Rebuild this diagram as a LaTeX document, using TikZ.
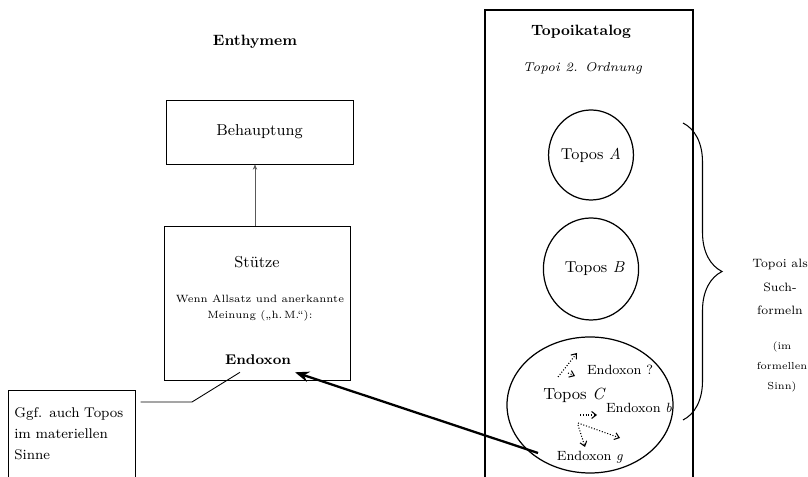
\documentclass[tikz,border=0pt]{standalone}
\usepackage{tikz}
\usetikzlibrary{arrows.meta,positioning,calc,shapes.geometric,decorations.pathreplacing}

\begin{document}
\begin{tikzpicture}[
  kasten/.style={
    draw, line width=0.5pt,
    align=center, font=\fontsize{9}{11}\selectfont},
  titel/.style={font=\fontsize{8.5}{10}\selectfont\bfseries},
  topos/.style={
    draw, ellipse, line width=0.7pt, inner sep=0pt,
    font=\fontsize{9}{11}\selectfont},
  endox/.style={font=\fontsize{7.6}{9}\selectfont, inner sep=1pt},
  stuetzpfeil/.style={-{Stealth[length=3pt,width=2.5pt]}, gray!70!black, line width=0.35pt},
  dotarr/.style={-{Straight Barb[length=2.6pt,width=4pt]}, densely dotted, line width=0.6pt},
  bigarr/.style={-{Stealth[length=8pt,width=6pt]}, line width=1.3pt},
]
  \useasboundingbox (0,0) rectangle (16.16,-9.54);

  % Enthymem
  \node[titel] (enthymem) at (5.1,-0.83) {Enthymem};
  \node[kasten, minimum width=3.74cm, minimum height=1.28cm] (behauptung) at (5.19,-2.64) {Behauptung};
  \node[kasten, minimum width=3.72cm, minimum height=3.08cm] (stuetze) at (5.14,-6.06) {};
  \node[font=\fontsize{9}{11}\selectfont] (stTitel) at (5.14,-5.24) {Stütze};
  \node[font=\fontsize{6}{9}\selectfont, align=center] (wenn) at (5.2,-6.16)
    {Wenn Allsatz und anerkannte\\Meinung („h.\,M.“):};
  \node[font=\fontsize{8}{10}\selectfont\bfseries, inner sep=4pt] (endoxon) at (5.16,-7.2) {Endoxon};
  \draw[stuetzpfeil] ([xshift=-0.04cm]stuetze.north) -- ([xshift=-0.04cm]stuetze.north |- behauptung.south);

  \node[anchor=north west, minimum width=2.54cm, minimum height=1.74cm, text width=2.3cm,
        align=left, font=\fontsize{8}{12}\selectfont] (ggf) at (0.16,-7.8)
    {Ggf. auch Topos im materiellen Sinne\\[2pt]};
  \draw[line width=0.5pt] (ggf.south west) -- (ggf.north west) -- (ggf.north east) -- (ggf.south east);
  \coordinate (knick) at (3.84,-8.04);
  \draw[line width=0.5pt] ([xshift=-0.36cm]endoxon.south) -- (knick) -- ([xshift=0.1cm]ggf.north east |- knick);

  % Topoikatalog
  \node[anchor=north west, minimum width=4.14cm, minimum height=9.34cm] (katalog) at (9.7,-0.2) {};
  \draw[line width=1.1pt] (katalog.south west) -- (katalog.north west) -- (katalog.north east) -- (katalog.south east);
  \node[titel] (katTitel) at (11.62,-0.63) {Topoikatalog};
  \node[font=\fontsize{7.3}{9}\selectfont\itshape] (ordnung) at (11.65,-1.36) {Topoi 2. Ordnung};

  \node[topos, minimum width=1.64cm, minimum height=1.8cm] (toposA) at (11.82,-3.1) {Topos \textit{A}};
  \node[topos, minimum width=1.64cm, minimum height=2.04cm] (toposB) at (11.82,-5.38) {\hspace{0.15cm}Topos \textit{B}};
  \node[topos, minimum width=3.32cm, minimum height=2.72cm] (toposC) at (11.8,-8.1) {};

  \node[font=\fontsize{9.2}{11}\selectfont] (topC) at (11.49,-7.9) {Topos \textit{C}};
  \node[endox] (endFrage) at (12.4,-7.4) {Endoxon ?};
  \node[endox] (endB) at (12.78,-8.16) {Endoxon \textit{b}};
  \node[endox] (endG) at (11.8,-9.14) {Endoxon \textit{g}};

  \coordinate (a1) at (11.16,-7.54); \coordinate (b1) at (11.54,-7.06);
  \coordinate (a2) at (11.36,-7.46); \coordinate (b2) at (11.5,-7.52);
  \coordinate (a3) at (11.6,-8.3);   \coordinate (b3) at (11.94,-8.3);
  \coordinate (a4) at (11.56,-8.46); \coordinate (b4) at (12.4,-8.76);
  \coordinate (a5) at (11.56,-8.5);  \coordinate (b5) at (11.7,-8.94);
  \foreach \i in {1,...,5}{
    \draw[dotarr] (a\i) -- (b\i);
  }

  \coordinate (gtail) at (10.76,-9.06);
  \draw[bigarr] (gtail) -- (endoxon);

  % Klammer
  \coordinate (kTop) at (13.66,-2.46);
  \coordinate (kBot) at (13.66,-8.4);
  \draw[line width=0.6pt, decorate, decoration={brace, amplitude=0.78cm}] (kTop) -- (kBot);
  \node[font=\fontsize{6.9}{13.5}\selectfont, align=center] (such) at (15.6,-5.74)
    {Topoi als\\Such-\\formeln};
  \node[font=\fontsize{5.8}{11.4}\selectfont, align=center] (formell) at (15.64,-7.34)
    {(im\\formellen\\Sinn)};
\end{tikzpicture}
\end{document}
